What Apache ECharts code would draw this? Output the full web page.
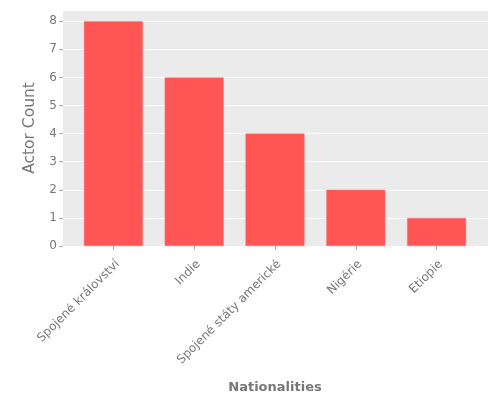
<!DOCTYPE html>
<html>
<head>
<meta charset="utf-8">
<script src="https://cdn.jsdelivr.net/npm/echarts@6/dist/echarts.min.js"></script>
<style>
  html, body { margin: 0; padding: 0; background: #fff; }
  #chart { width: 500px; height: 400px; }
</style>
</head>
<body>
<div id="chart"></div>
<script>
// data
const nationalities = ['Spojené království', 'Indie', 'Spojené státy americké', 'Nigérie', 'Etiopie']
const actorCounts = [8, 6, 4, 2, 1]
const yMax = 8.4

const myChart = echarts.init(document.getElementById('chart'))
const option = {
  animation: false,
  textStyle: { fontFamily: 'DejaVu Sans' },
  // grid 0: grey panel with y axis, grid 1: padded category axis holding the bars
  grid: [
    { left: 63, right: 12, top: 10, bottom: 154, show: true, backgroundColor: '#EBEBEB', borderWidth: 0 },
    { left: 73, right: 23, top: 10, bottom: 154 }
  ],
  xAxis: [
    { type: 'value', gridIndex: 0, show: false, min: 0, max: 1 },
    {
      type: 'category',
      gridIndex: 1,
      data: nationalities,
      name: 'Nationalities',
      nameLocation: 'middle',
      nameGap: 135,
      nameTextStyle: { color: '#777', fontSize: 13, fontWeight: 'bold' },
      axisLine: { show: false },
      axisTick: { show: true, alignWithLabel: true, length: 4, lineStyle: { color: '#aaa' } },
      axisLabel: { rotate: 45, color: '#777', fontSize: 12, margin: 12, interval: 0, verticalAlign: 'top' }
    }
  ],
  yAxis: [
    {
      type: 'value',
      gridIndex: 0,
      min: 0,
      max: yMax,
      interval: 1,
      name: 'Actor Count',
      nameLocation: 'middle',
      nameGap: 23,
      nameTextStyle: { color: '#777', fontSize: 15.5 },
      axisLine: { show: false },
      axisTick: { show: true, length: 4, lineStyle: { color: '#aaa' } },
      axisLabel: { color: '#777', fontSize: 12, margin: 6, showMaxLabel: false },
      splitLine: { lineStyle: { color: '#fff', width: 1 } }
    },
    { type: 'value', gridIndex: 1, show: false, min: 0, max: yMax, splitLine: { show: false } }
  ],
  series: [{
    type: 'bar',
    xAxisIndex: 1,
    yAxisIndex: 1,
    data: actorCounts,
    barWidth: 59,
    itemStyle: { color: '#FF5555', borderColor: '#FF7777', borderWidth: 0.5 }
  }]
}
myChart.setOption(option)
</script>
</body>
</html>
